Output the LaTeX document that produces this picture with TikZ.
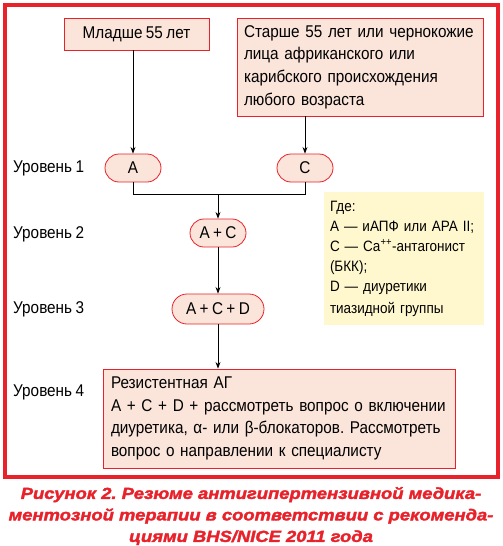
\documentclass[tikz,border=0pt]{standalone}
\usepackage{fontspec}
\setmainfont{Liberation Sans}[FakeStretch=0.9, WordSpace=0.8]
\newfontfamily\capfont{Liberation Sans}[FakeStretch=1.15, FakeBold=2]
\usetikzlibrary{positioning,arrows.meta}
\definecolor{frame}{HTML}{E8212A}
\definecolor{peach}{HTML}{FBE4DA}
\definecolor{note}{HTML}{FFF8CF}
\frenchspacing

\begin{document}
\begin{tikzpicture}[
    x=1pt, y=-1pt,
    >=Stealth,
    txt/.style={font=\fontsize{17}{22.6}\selectfont},
    box/.style={txt, draw=frame, fill=peach, line width=0.8pt, align=left, inner sep=0pt},
    pill/.style={txt, draw=frame, fill=peach, line width=0.8pt, rounded corners=14pt, minimum height=28pt, inner sep=0pt},
    level/.style={txt, anchor=west, inner sep=0pt},
    arrow/.style={->, line width=0.8pt},
    link/.style={line width=0.8pt},
]
\useasboundingbox (0,0) rectangle (503,546);
\fill[white] (0,0) rectangle (503,546);
\draw[frame, line width=3.5pt] (5,5) rectangle (498,477);

% starting groups
\node[box, minimum width=145pt, minimum height=32pt, align=center] (young) at (136.5,34) {Младше 55 лет};
\node[box, minimum width=246pt, minimum height=98pt, text width=232pt] (old) at (360,67)
  {Старше 55 лет или чернокожие\\лица африканского или\\карибского происхождения\\любого возраста};

% levels
\node[level] (lv1) at (13,168) {Уровень 1};
\node[level] (lv2) at (13,234) {Уровень 2};
\node[level] (lv3) at (13,309) {Уровень 3};
\node[level] (lv4) at (13,392) {Уровень 4};

\node[pill, minimum width=56pt] (A) at (133,168) {A};
\node[pill, minimum width=56pt] (C) at (305,168) {C};
\coordinate (jn) at (218,194);
\node[pill, minimum width=56pt] (AC) at (218,233) {A + C};
\node[pill, minimum width=92pt, minimum height=30pt, rounded corners=15pt] (ACD) at (218,309) {A + C + D};

\node[box, minimum width=352pt, minimum height=99pt, text width=336pt] (resist) at (279,418.5)
  {Резистентная АГ\\A + C + D + рассмотреть вопрос о включении\\диуретика, α- или β-блокаторов. Рассмотреть\\вопрос о направлении к специалисту};

% legend
\node[fill=note, minimum width=160pt, minimum height=133pt, text width=148pt, inner sep=0pt,
      align=left, font=\fontsize{15}{20}\selectfont] (legend) at (404,258.5)
  {Где:\\A — иАПФ или АРА II;\\C — Ca\textsuperscript{++}-антагонист\\(БКК);\\D — диуретики\\[2pt]тиазидной группы};

\draw[arrow] (young.south -| A) -- (A);
\draw[arrow] (old.south -| C) -- (C);
\draw[link] (A) |- (jn);
\draw[link] (C) |- (jn);
\draw[arrow] (jn) -- (AC);
\draw[arrow] (AC) -- (ACD);
\draw[arrow] (ACD) -- (resist.north -| ACD);

% caption
\node[text=frame, font=\capfont\bfseries\itshape\fontsize{16}{21.5}\selectfont, align=center] (caption) at (251,516)
  {Рисунок 2. Резюме антигипертензивной медика-\\ментозной терапии в соответствии с рекоменда-\\циями BHS/NICE 2011 года};
\end{tikzpicture}
\end{document}
